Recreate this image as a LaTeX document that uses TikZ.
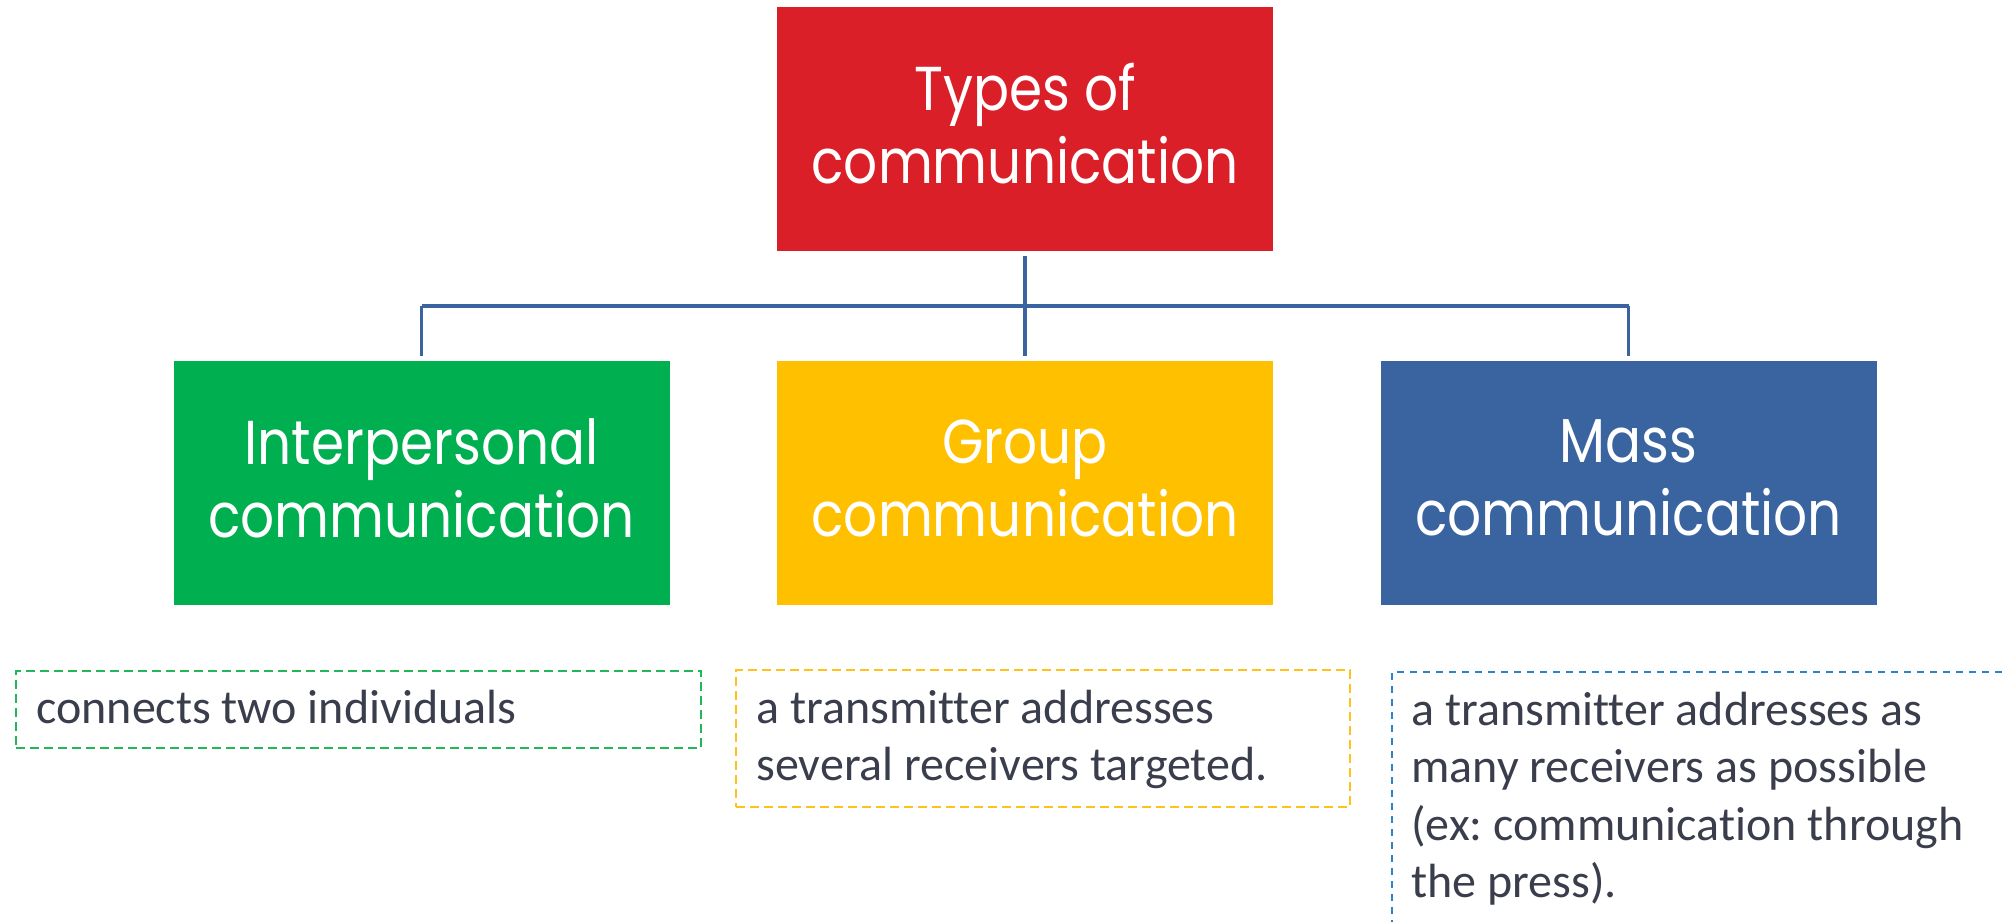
\documentclass[tikz,border=0pt]{standalone}
\usepackage{fontspec}
\setmainfont{Carlito}[Ligatures={NoCommon}]
\newfontfamily\headfont{Poppins}[FakeStretch=0.86]
\definecolor{boxred}{HTML}{DA1F28}
\definecolor{boxgreen}{HTML}{00AF50}
\definecolor{boxyellow}{HTML}{FFC000}
\definecolor{boxblue}{HTML}{3A64A0}
\definecolor{linkblue}{HTML}{3A64A0}
\definecolor{frgreen}{HTML}{22B857}
\definecolor{fryellow}{HTML}{FFC21A}
\definecolor{frblue}{HTML}{2E82C8}
\definecolor{bodytext}{HTML}{3A3D4B}
\frenchspacing
\tikzset{
  headbox/.style={fill=#1, draw=none, minimum width=248pt, minimum height=122pt,
    inner sep=0pt, text=white, align=center,
    font=\headfont\fontsize{31}{36.5}\selectfont,
    execute at end node={\rule[-5pt]{0pt}{5pt}}},
  link/.style={draw=linkblue, line width=1.6pt},
  frame/.style={draw=#1, dash pattern=on 4.5pt off 2.5pt, line width=1pt,
    anchor=north west, inner sep=0pt},
  desc/.style={anchor=base west, inner sep=0pt, text=bodytext,
    font=\fontsize{24}{28.75}\selectfont}
}
% left-aligned lines whose baseline is that of the first line
\newcommand\desclines[1]{\begin{tabular}[t]{@{}l@{}}#1\end{tabular}}
\begin{document}
\begin{tikzpicture}[x=0.5pt, y=-0.5pt]
\useasboundingbox (0,0) rectangle (2005,921);

% category boxes
\node[headbox=boxred]    (top)   at (1025,128.5) {Types of\\communication};
\node[headbox=boxgreen]  (inter) at (421.5,483)  {Interpersonal\\communication};
\node[headbox=boxyellow] (group) at (1025,483)   {Group\\communication};
\node[headbox=boxblue]   (mass)  at (1628.5,483) {Mass\\communication};

% tree connectors
\coordinate (bus) at (1025,306);
\draw[link, shorten <=2.5pt, shorten >=2.5pt] (top.south) -- (group.north);
\draw[link] (inter.north |- bus) -- (mass.north |- bus);
\draw[link, shorten >=2.5pt] (inter.north |- bus) -- (inter.north);
\draw[link, shorten >=2.5pt] (mass.north |- bus) -- (mass.north);

% dashed description frames
\node[frame=frgreen, minimum width=342.5pt, minimum height=38.5pt] (f1) at (15,670) {};
\node[frame=fryellow, minimum width=307pt, minimum height=68.5pt] (f2) at (735,669) {};
\node[frame=frblue, dash pattern=on 3.5pt off 3pt, line width=0.8pt,
      minimum width=360pt, minimum height=170pt] (f3) at (1391,671) {};

% descriptions
\node[desc] (d1) at ([xshift=10.5pt, yshift=-26.5pt]f1.north west)
  {connects two individuals};
\node[desc] (d2) at ([xshift=10.5pt, yshift=-27pt]f2.north west)
  {\desclines{a transmitter addresses\\several receivers targeted.}};
\node[desc] (d3) at ([xshift=10pt, yshift=-27pt]f3.north west)
  {\desclines{a transmitter addresses as\\many receivers as possible\\(ex: communication through\\the press).}};
\end{tikzpicture}
\end{document}
